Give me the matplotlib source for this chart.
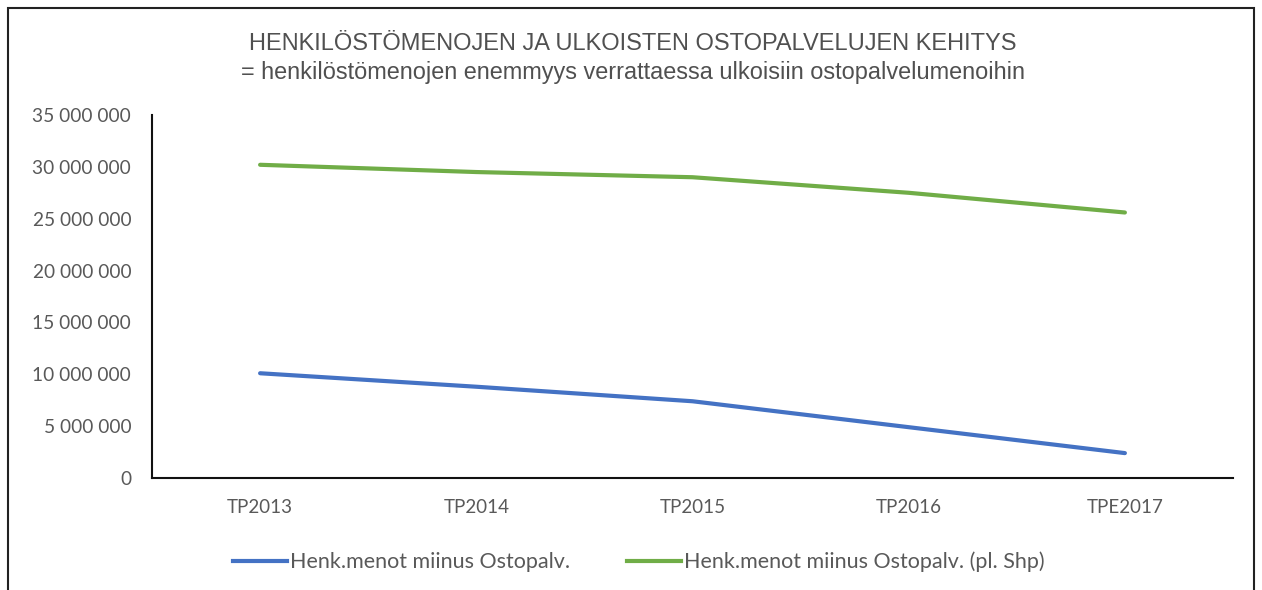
import matplotlib
matplotlib.use("Agg")
import matplotlib.pyplot as plt
from matplotlib.patches import Rectangle
from matplotlib.lines import Line2D
from matplotlib.ticker import FuncFormatter, MultipleLocator

categories = ["TP2013", "TP2014", "TP2015", "TP2016", "TPE2017"]
henk_minus_osto = [10100000, 8800000, 7400000, 4900000, 2400000]
henk_minus_osto_pl_shp = [30200000, 29500000, 29000000, 27500000, 25600000]
series_names = ["Henk.menot miinus Ostopalv.", "Henk.menot miinus Ostopalv. (pl. Shp)"]
title_line1 = "HENKILÖSTÖMENOJEN JA ULKOISTEN OSTOPALVELUJEN KEHITYS"
title_line2 = "= henkilöstömenojen enemmyys verrattaessa ulkoisiin ostopalvelumenoihin"

W, H = 1262, 590
fig = plt.figure(figsize=(W / 100, H / 100), dpi=100)
fig.patch.set_facecolor("white")

# outer frame
fig.patches.append(Rectangle((8 / W, -0.05), (1254 - 8) / W, (H - 8) / H + 0.05,
                             transform=fig.transFigure, fill=False,
                             edgecolor="#222222", linewidth=1.5))

ax = fig.add_axes([152 / W, 1 - 478 / H, (1233 - 152) / W, (478 - 115) / H])
x = list(range(len(categories)))
ax.plot(x, henk_minus_osto, color="#4472C4", linewidth=3, solid_capstyle="round")
ax.plot(x, henk_minus_osto_pl_shp, color="#70AD47", linewidth=3, solid_capstyle="round")

ax.set_xlim(-0.5, len(categories) - 0.5)
ax.set_ylim(0, 35000000)
ax.yaxis.set_major_locator(MultipleLocator(5000000))
ax.yaxis.set_major_formatter(FuncFormatter(lambda v, p: f"{int(v):,}".replace(",", " ")))
ax.set_xticks(x)
ax.set_xticklabels(categories)
for s in ["top", "right"]:
    ax.spines[s].set_visible(False)
for s in ["left", "bottom"]:
    ax.spines[s].set_color("#111111")
    ax.spines[s].set_linewidth(1.5)
ax.tick_params(axis="both", length=0, labelcolor="#595959", labelfontfamily="Lato")
ax.tick_params(axis="y", labelsize=13.8, pad=15)
ax.tick_params(axis="x", labelsize=13.5, pad=15)

fig.text(633 / W, 1 - 44 / H, title_line1, ha="center", va="center",
         fontsize=17, color="#505050", family="Liberation Sans")
fig.text(633 / W, 1 - 72 / H, title_line2, ha="center", va="center",
         fontsize=16.9, color="#505050", family="Liberation Sans")

handles = [Line2D([], [], color="#4472C4", linewidth=3),
           Line2D([], [], color="#70AD47", linewidth=3)]
fig.legend(handles, series_names, loc="center", bbox_to_anchor=(639 / W, 1 - 562 / H),
           ncol=2, frameon=False, handlelength=2.5, handletextpad=0.15,
           columnspacing=2.65, prop={"family": "Lato", "size": 15.5},
           labelcolor="#595959")

fig.savefig("out.png", dpi=100, facecolor="white")
